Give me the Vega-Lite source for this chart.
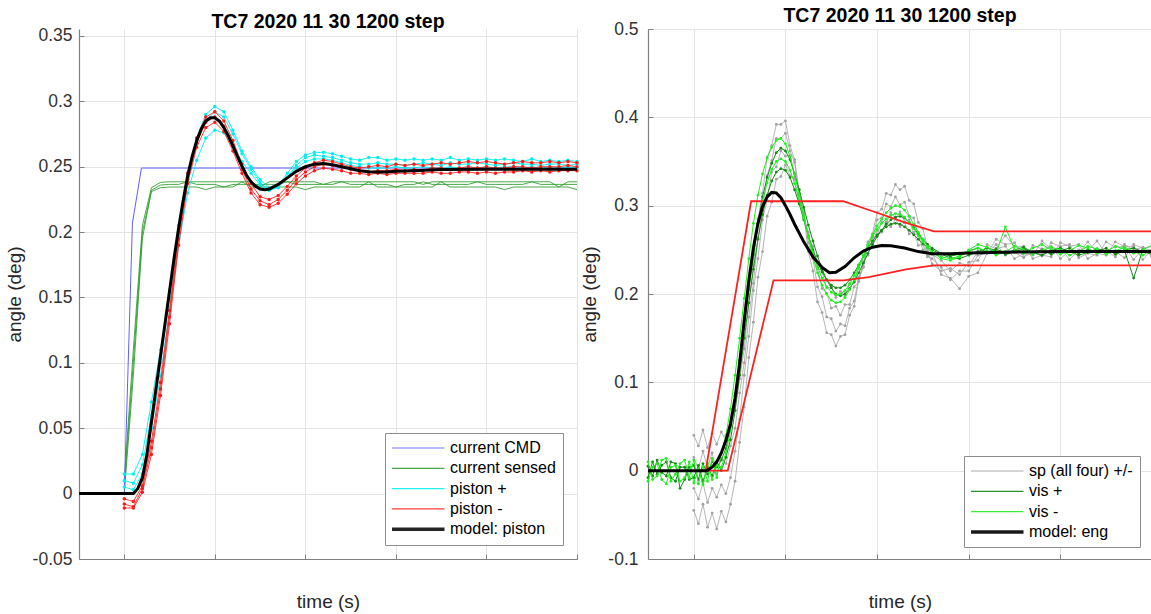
{
"$schema":"https://vega.github.io/schema/vega-lite/v6.json",
"padding":{"left":5,"top":5,"right":0,"bottom":0},
"spacing":-3,
"config":{
 "font":"Liberation Sans",
 "view":{"stroke":null},
 "axis":{"domainColor":"#808080","domainWidth":1.2,"gridColor":"#e4e4e4","gridWidth":1,"tickColor":"#808080","tickSize":-5,"labelFontSize":17.5,"labelColor":"#333333","titleFontSize":19,"titleFontWeight":"normal","titleColor":"#262626","labelFont":"Liberation Sans","titleFont":"Liberation Sans","labelOverlap":false},
 "title":{"fontSize":19.5,"fontWeight":"bold","color":"#000000","font":"Liberation Sans","offset":-6},
 "legend":{"orient":"bottom-right","direction":"vertical","title":null,"symbolType":"stroke","symbolSize":2809,"symbolOffset":18,"clipHeight":16,"labelFontSize":16,"labelColor":"#000000","labelFont":"Liberation Sans","labelOffset":24,"padding":7,"rowPadding":4.3,"strokeColor":"#8c8c8c","fillColor":"#ffffff"}
},
"datasets":{
"cmd":[{"t":0.5,"v":0},{"t":1.0,"v":0},{"t":1.09,"v":0.207},{"t":1.19,"v":0.249},{"t":6.0,"v":0.249}],
"lp":[
{"t":1.0,"c1":0.015,"c2":0.01,"c3":0.005,"r1":-0.004,"r2":-0.008,"r3":-0.011,"s1":0.005,"s2":0,"s3":0.01},
{"t":1.1,"c1":0.015,"c2":0.008,"c3":0.003,"r1":-0.006,"r2":-0.01,"r3":-0.011,"s1":0.1,"s2":0.09,"s3":0.11},
{"t":1.2,"c1":0.03,"c2":0.022,"c3":0.015,"r1":0.006,"r2":0.004,"r3":0.001,"s1":0.2,"s2":0.195,"s3":0.205},
{"t":1.3,"c1":0.07,"c2":0.06,"c3":0.05,"r1":0.04,"r2":0.035,"r3":0.03,"s1":0.231,"s2":0.232,"s3":0.234},
{"t":1.4,"c1":0.11,"c2":0.1,"c3":0.09,"r1":0.085,"r2":0.08,"r3":0.075,"s1":0.234,"s2":0.236,"s3":0.238},
{"t":1.5,"c1":0.155,"c2":0.15,"c3":0.14,"r1":0.14,"r2":0.135,"r3":0.13,"s1":0.2345,"s2":0.2365,"s3":0.2385},
{"t":1.6,"c1":0.205,"c2":0.2,"c3":0.19,"r1":0.2,"r2":0.195,"r3":0.19,"s1":0.2345,"s2":0.2365,"s3":0.2385},
{"t":1.7,"c1":0.245,"c2":0.24,"c3":0.23,"r1":0.245,"r2":0.24,"r3":0.237,"s1":0.2345,"s2":0.2385,"s3":0.2385},
{"t":1.8,"c1":0.272,"c2":0.268,"c3":0.255,"r1":0.272,"r2":0.268,"r3":0.265,"s1":0.2345,"s2":0.2365,"s3":0.2385},
{"t":1.9,"c1":0.29,"c2":0.285,"c3":0.272,"r1":0.288,"r2":0.284,"r3":0.28,"s1":0.2325,"s2":0.2365,"s3":0.2385},
{"t":2.0,"c1":0.296,"c2":0.292,"c3":0.278,"r1":0.292,"r2":0.288,"r3":0.284,"s1":0.2345,"s2":0.2365,"s3":0.2385},
{"t":2.1,"c1":0.292,"c2":0.288,"c3":0.276,"r1":0.285,"r2":0.281,"r3":0.277,"s1":0.2345,"s2":0.2345,"s3":0.2385},
{"t":2.2,"c1":0.278,"c2":0.275,"c3":0.266,"r1":0.27,"r2":0.266,"r3":0.262,"s1":0.2345,"s2":0.2365,"s3":0.2385},
{"t":2.3,"c1":0.262,"c2":0.26,"c3":0.254,"r1":0.252,"r2":0.248,"r3":0.245,"s1":0.2385,"s2":0.2365,"s3":0.2385},
{"t":2.4,"c1":0.25,"c2":0.248,"c3":0.245,"r1":0.237,"r2":0.233,"r3":0.23,"s1":0.2345,"s2":0.2365,"s3":0.2385},
{"t":2.5,"c1":0.24,"c2":0.238,"c3":0.236,"r1":0.227,"r2":0.224,"r3":0.221,"s1":0.2345,"s2":0.2365,"s3":0.2345},
{"t":2.6,"c1":0.234,"c2":0.232,"c3":0.232,"r1":0.225,"r2":0.221,"r3":0.219,"s1":0.2345,"s2":0.2365,"s3":0.2385},
{"t":2.7,"c1":0.236,"c2":0.234,"c3":0.235,"r1":0.228,"r2":0.225,"r3":0.222,"s1":0.2345,"s2":0.2365,"s3":0.2385},
{"t":2.8,"c1":0.245,"c2":0.242,"c3":0.242,"r1":0.235,"r2":0.232,"r3":0.229,"s1":0.2345,"s2":0.2385,"s3":0.2385},
{"t":2.9,"c1":0.254,"c2":0.251,"c3":0.249,"r1":0.243,"r2":0.24,"r3":0.237,"s1":0.2345,"s2":0.2365,"s3":0.2385},
{"t":3.0,"c1":0.259,"c2":0.257,"c3":0.254,"r1":0.249,"r2":0.246,"r3":0.243,"s1":0.2325,"s2":0.2365,"s3":0.2385},
{"t":3.1,"c1":0.261,"c2":0.259,"c3":0.256,"r1":0.253,"r2":0.25,"r3":0.247,"s1":0.2345,"s2":0.2365,"s3":0.2385},
{"t":3.2,"c1":0.261,"c2":0.258,"c3":0.256,"r1":0.255,"r2":0.252,"r3":0.249,"s1":0.2345,"s2":0.2365,"s3":0.2365},
{"t":3.3,"c1":0.26,"c2":0.257,"c3":0.255,"r1":0.254,"r2":0.251,"r3":0.248,"s1":0.2345,"s2":0.2365,"s3":0.2385},
{"t":3.4,"c1":0.258,"c2":0.255,"c3":0.253,"r1":0.252,"r2":0.25,"r3":0.247,"s1":0.2345,"s2":0.2385,"s3":0.2385},
{"t":3.5,"c1":0.256,"c2":0.253,"c3":0.251,"r1":0.25,"r2":0.248,"r3":0.245,"s1":0.2345,"s2":0.2365,"s3":0.2385},
{"t":3.6,"c1":0.255,"c2":0.252,"c3":0.25,"r1":0.249,"r2":0.247,"r3":0.245,"s1":0.2345,"s2":0.2365,"s3":0.2385},
{"t":3.7,"c1":0.257,"c2":0.252,"c3":0.249,"r1":0.25,"r2":0.246,"r3":0.244,"s1":0.2385,"s2":0.2365,"s3":0.2385},
{"t":3.8,"c1":0.257,"c2":0.253,"c3":0.249,"r1":0.251,"r2":0.247,"r3":0.245,"s1":0.2345,"s2":0.2365,"s3":0.2385},
{"t":3.9,"c1":0.255,"c2":0.252,"c3":0.249,"r1":0.25,"r2":0.247,"r3":0.244,"s1":0.2345,"s2":0.2365,"s3":0.2385},
{"t":4.0,"c1":0.256,"c2":0.252,"c3":0.25,"r1":0.252,"r2":0.248,"r3":0.245,"s1":0.2345,"s2":0.2345,"s3":0.2385},
{"t":4.1,"c1":0.255,"c2":0.251,"c3":0.249,"r1":0.251,"r2":0.247,"r3":0.245,"s1":0.2345,"s2":0.2365,"s3":0.2385},
{"t":4.2,"c1":0.256,"c2":0.252,"c3":0.249,"r1":0.252,"r2":0.248,"r3":0.245,"s1":0.2345,"s2":0.2365,"s3":0.2385},
{"t":4.3,"c1":0.255,"c2":0.253,"c3":0.25,"r1":0.251,"r2":0.247,"r3":0.245,"s1":0.2345,"s2":0.2385,"s3":0.2365},
{"t":4.4,"c1":0.256,"c2":0.252,"c3":0.249,"r1":0.252,"r2":0.249,"r3":0.246,"s1":0.2345,"s2":0.2365,"s3":0.2385},
{"t":4.5,"c1":0.255,"c2":0.251,"c3":0.249,"r1":0.253,"r2":0.249,"r3":0.245,"s1":0.2385,"s2":0.2365,"s3":0.2385},
{"t":4.6,"c1":0.257,"c2":0.253,"c3":0.25,"r1":0.252,"r2":0.248,"r3":0.245,"s1":0.2345,"s2":0.2365,"s3":0.2385},
{"t":4.7,"c1":0.255,"c2":0.252,"c3":0.249,"r1":0.253,"r2":0.249,"r3":0.246,"s1":0.2345,"s2":0.2365,"s3":0.2385},
{"t":4.8,"c1":0.256,"c2":0.252,"c3":0.25,"r1":0.254,"r2":0.25,"r3":0.246,"s1":0.2345,"s2":0.2365,"s3":0.2385},
{"t":4.9,"c1":0.255,"c2":0.253,"c3":0.249,"r1":0.253,"r2":0.249,"r3":0.245,"s1":0.2345,"s2":0.2385,"s3":0.2385},
{"t":5.0,"c1":0.256,"c2":0.252,"c3":0.25,"r1":0.254,"r2":0.25,"r3":0.246,"s1":0.2345,"s2":0.2365,"s3":0.2385},
{"t":5.1,"c1":0.255,"c2":0.251,"c3":0.249,"r1":0.253,"r2":0.249,"r3":0.245,"s1":0.2345,"s2":0.2365,"s3":0.2385},
{"t":5.2,"c1":0.256,"c2":0.252,"c3":0.25,"r1":0.252,"r2":0.249,"r3":0.246,"s1":0.2325,"s2":0.2365,"s3":0.2385},
{"t":5.3,"c1":0.255,"c2":0.253,"c3":0.25,"r1":0.253,"r2":0.25,"r3":0.246,"s1":0.2345,"s2":0.2365,"s3":0.2385},
{"t":5.4,"c1":0.254,"c2":0.252,"c3":0.249,"r1":0.254,"r2":0.25,"r3":0.247,"s1":0.2345,"s2":0.2365,"s3":0.2385},
{"t":5.5,"c1":0.256,"c2":0.252,"c3":0.25,"r1":0.253,"r2":0.249,"r3":0.246,"s1":0.2345,"s2":0.2385,"s3":0.2385},
{"t":5.6,"c1":0.254,"c2":0.251,"c3":0.249,"r1":0.253,"r2":0.25,"r3":0.247,"s1":0.2345,"s2":0.2365,"s3":0.2385},
{"t":5.7,"c1":0.255,"c2":0.252,"c3":0.25,"r1":0.254,"r2":0.25,"r3":0.246,"s1":0.2345,"s2":0.2365,"s3":0.2385},
{"t":5.8,"c1":0.254,"c2":0.252,"c3":0.249,"r1":0.253,"r2":0.25,"r3":0.247,"s1":0.2345,"s2":0.2365,"s3":0.2345},
{"t":5.9,"c1":0.255,"c2":0.251,"c3":0.25,"r1":0.254,"r2":0.251,"r3":0.247,"s1":0.2345,"s2":0.2365,"s3":0.2385},
{"t":6.0,"c1":0.254,"c2":0.252,"c3":0.249,"r1":0.253,"r2":0.25,"r3":0.247,"s1":0.2325,"s2":0.2365,"s3":0.2385}
],
"m1":[{"t":0.5,"v":0},{"t":1.0,"v":0},{"t":1.1,"v":0},{"t":1.15,"v":0.004},{"t":1.2,"v":0.012},{"t":1.25,"v":0.03},{"t":1.3,"v":0.055},{"t":1.35,"v":0.08},{"t":1.4,"v":0.105},{"t":1.45,"v":0.13},{"t":1.5,"v":0.155},{"t":1.55,"v":0.18},{"t":1.6,"v":0.203},{"t":1.65,"v":0.224},{"t":1.7,"v":0.243},{"t":1.75,"v":0.258},{"t":1.8,"v":0.27},{"t":1.85,"v":0.279},{"t":1.9,"v":0.285},{"t":1.95,"v":0.2875},{"t":2.0,"v":0.2875},{"t":2.05,"v":0.285},{"t":2.1,"v":0.28},{"t":2.15,"v":0.2735},{"t":2.2,"v":0.266},{"t":2.25,"v":0.258},{"t":2.3,"v":0.2505},{"t":2.35,"v":0.2435},{"t":2.4,"v":0.2385},{"t":2.45,"v":0.235},{"t":2.5,"v":0.233},{"t":2.55,"v":0.2325},{"t":2.6,"v":0.233},{"t":2.7,"v":0.2365},{"t":2.8,"v":0.2415},{"t":2.9,"v":0.2465},{"t":3.0,"v":0.25},{"t":3.1,"v":0.252},{"t":3.2,"v":0.2525},{"t":3.3,"v":0.2515},{"t":3.4,"v":0.25},{"t":3.5,"v":0.2485},{"t":3.6,"v":0.247},{"t":3.7,"v":0.2462},{"t":3.8,"v":0.246},{"t":3.9,"v":0.246},{"t":4.0,"v":0.2465},{"t":4.2,"v":0.247},{"t":4.5,"v":0.2478},{"t":5.0,"v":0.248},{"t":6.0,"v":0.248}],
"rt":[
{"t":0.5,"p1":0.005,"p2":-0.008,"m1":0.01,"m2":-0.012},
{"t":0.55,"p1":-0.006,"p2":0.01,"m1":-0.01,"m2":0.004},
{"t":0.6,"p1":0.012,"p2":-0.004,"m1":-0.006,"m2":0.008},
{"t":0.65,"p1":-0.002,"p2":0.006,"m1":0.012,"m2":-0.01},
{"t":0.7,"p1":-0.006,"p2":0.01,"m1":0.014,"m2":-0.015},
{"t":0.75,"p1":0.01,"p2":-0.008,"m1":-0.012,"m2":0.004},
{"t":0.8,"p1":0.008,"p2":-0.012,"m1":-0.004,"m2":0.006},
{"t":0.85,"p1":-0.02,"p2":0.004,"m1":0.008,"m2":-0.012},
{"t":0.9,"p1":-0.01,"p2":0.004,"m1":0.012,"m2":-0.008},
{"t":0.95,"p1":0.004,"p2":-0.01,"m1":-0.008,"m2":0.01},
{"t":1.0,"g1":0.04,"g2":0.015,"g3":-0.02,"g4":-0.045,"p1":0.006,"p2":-0.008,"m1":0.012,"m2":-0.014},
{"t":1.05,"g1":0.028,"g2":0.002,"g3":-0.032,"g4":-0.06,"p1":-0.01,"p2":0.006,"m1":-0.015,"m2":0.002},
{"t":1.1,"g1":0.046,"g2":0.022,"g3":-0.014,"g4":-0.038,"p1":0.008,"p2":-0.012,"m1":0.005,"m2":-0.016},
{"t":1.15,"g1":0.026,"g2":0.004,"g3":-0.036,"g4":-0.064,"p1":-0.004,"p2":0.004,"m1":-0.012,"m2":0.008},
{"t":1.2,"g1":0.042,"g2":0.02,"g3":-0.02,"g4":-0.048,"p1":0.01,"p2":-0.006,"m1":0.014,"m2":-0.01},
{"t":1.25,"g1":0.03,"g2":-0.004,"g3":-0.03,"g4":-0.066,"p1":0.004,"p2":0.01,"m1":-0.008,"m2":0.006},
{"t":1.3,"g1":0.044,"g2":0.014,"g3":-0.016,"g4":-0.046,"p1":0.012,"p2":0.0,"m1":0.02,"m2":0.004},
{"t":1.35,"g1":0.034,"g2":0.008,"g3":-0.026,"g4":-0.058,"p1":0.025,"p2":0.015,"m1":0.04,"m2":0.02},
{"t":1.4,"g1":0.052,"g2":0.028,"g3":-0.008,"g4":-0.038,"p1":0.05,"p2":0.035,"m1":0.07,"m2":0.045},
{"t":1.45,"g1":0.068,"g2":0.048,"g3":0.022,"g4":-0.012,"p1":0.085,"p2":0.068,"m1":0.108,"m2":0.08},
{"t":1.5,"g1":0.104,"g2":0.088,"g3":0.058,"g4":0.032,"p1":0.125,"p2":0.108,"m1":0.15,"m2":0.12},
{"t":1.55,"g1":0.138,"g2":0.122,"g3":0.108,"g4":0.072,"p1":0.165,"p2":0.15,"m1":0.195,"m2":0.162},
{"t":1.6,"g1":0.19,"g2":0.174,"g3":0.152,"g4":0.128,"p1":0.205,"p2":0.19,"m1":0.24,"m2":0.205},
{"t":1.65,"g1":0.232,"g2":0.212,"g3":0.204,"g4":0.168,"p1":0.245,"p2":0.228,"m1":0.28,"m2":0.245},
{"t":1.7,"g1":0.285,"g2":0.264,"g3":0.24,"g4":0.219,"p1":0.28,"p2":0.262,"m1":0.312,"m2":0.278},
{"t":1.75,"g1":0.314,"g2":0.295,"g3":0.284,"g4":0.248,"p1":0.31,"p2":0.29,"m1":0.336,"m2":0.305},
{"t":1.8,"g1":0.355,"g2":0.334,"g3":0.306,"g4":0.288,"p1":0.332,"p2":0.312,"m1":0.354,"m2":0.326},
{"t":1.85,"g1":0.368,"g2":0.351,"g3":0.338,"g4":0.304,"p1":0.348,"p2":0.328,"m1":0.366,"m2":0.341},
{"t":1.9,"g1":0.392,"g2":0.376,"g3":0.344,"g4":0.33,"p1":0.36,"p2":0.338,"m1":0.374,"m2":0.35},
{"t":1.95,"g1":0.392,"g2":0.376,"g3":0.362,"g4":0.333,"p1":0.365,"p2":0.342,"m1":0.376,"m2":0.353},
{"t":2.0,"g1":0.396,"g2":0.382,"g3":0.356,"g4":0.346,"p1":0.362,"p2":0.34,"m1":0.37,"m2":0.35},
{"t":2.05,"g1":0.368,"g2":0.362,"g3":0.357,"g4":0.334,"p1":0.352,"p2":0.332,"m1":0.356,"m2":0.34},
{"t":2.1,"g1":0.352,"g2":0.349,"g3":0.332,"g4":0.33,"p1":0.336,"p2":0.318,"m1":0.336,"m2":0.325},
{"t":2.15,"g1":0.314,"g2":0.314,"g3":0.318,"g4":0.304,"p1":0.318,"p2":0.302,"m1":0.312,"m2":0.306},
{"t":2.2,"g1":0.289,"g2":0.294,"g3":0.286,"g4":0.292,"p1":0.298,"p2":0.284,"m1":0.288,"m2":0.286},
{"t":2.25,"g1":0.248,"g2":0.258,"g3":0.27,"g4":0.264,"p1":0.278,"p2":0.266,"m1":0.264,"m2":0.266},
{"t":2.3,"g1":0.226,"g2":0.24,"g3":0.24,"g4":0.254,"p1":0.26,"p2":0.25,"m1":0.242,"m2":0.247},
{"t":2.35,"g1":0.191,"g2":0.208,"g3":0.229,"g4":0.23,"p1":0.243,"p2":0.236,"m1":0.224,"m2":0.231},
{"t":2.4,"g1":0.179,"g2":0.197,"g3":0.206,"g4":0.225,"p1":0.228,"p2":0.225,"m1":0.21,"m2":0.218},
{"t":2.45,"g1":0.156,"g2":0.174,"g3":0.201,"g4":0.207,"p1":0.216,"p2":0.216,"m1":0.2,"m2":0.208},
{"t":2.5,"g1":0.154,"g2":0.172,"g3":0.184,"g4":0.208,"p1":0.207,"p2":0.21,"m1":0.193,"m2":0.202},
{"t":2.55,"g1":0.141,"g2":0.158,"g3":0.186,"g4":0.196,"p1":0.2,"p2":0.207,"m1":0.19,"m2":0.199},
{"t":2.6,"g1":0.152,"g2":0.166,"g3":0.176,"g4":0.203,"p1":0.198,"p2":0.207,"m1":0.191,"m2":0.2},
{"t":2.65,"g1":0.154,"g2":0.164,"g3":0.188,"g4":0.198,"p1":0.2,"p2":0.21,"m1":0.196,"m2":0.204},
{"t":2.7,"g1":0.176,"g2":0.184,"g3":0.188,"g4":0.212,"p1":0.206,"p2":0.216,"m1":0.205,"m2":0.211},
{"t":2.75,"g1":0.186,"g2":0.192,"g3":0.208,"g4":0.213,"p1":0.214,"p2":0.224,"m1":0.216,"m2":0.221},
{"t":2.8,"g1":0.216,"g2":0.219,"g3":0.214,"g4":0.232,"p1":0.224,"p2":0.233,"m1":0.229,"m2":0.232},
{"t":2.85,"g1":0.231,"g2":0.23,"g3":0.237,"g4":0.236,"p1":0.235,"p2":0.243,"m1":0.242,"m2":0.244},
{"t":2.9,"g1":0.259,"g2":0.256,"g3":0.244,"g4":0.255,"p1":0.246,"p2":0.252,"m1":0.255,"m2":0.255},
{"t":2.95,"g1":0.268,"g2":0.264,"g3":0.264,"g4":0.257,"p1":0.256,"p2":0.26,"m1":0.267,"m2":0.265},
{"t":3.0,"g1":0.292,"g2":0.284,"g3":0.266,"g4":0.272,"p1":0.265,"p2":0.267,"m1":0.277,"m2":0.273},
{"t":3.05,"g1":0.296,"g2":0.286,"g3":0.282,"g4":0.27,"p1":0.272,"p2":0.272,"m1":0.285,"m2":0.28},
{"t":3.1,"g1":0.314,"g2":0.302,"g3":0.28,"g4":0.282,"p1":0.279,"p2":0.276,"m1":0.292,"m2":0.285},
{"t":3.15,"g1":0.312,"g2":0.299,"g3":0.292,"g4":0.276,"p1":0.284,"p2":0.279,"m1":0.297,"m2":0.289},
{"t":3.2,"g1":0.324,"g2":0.31,"g3":0.286,"g4":0.285,"p1":0.287,"p2":0.28,"m1":0.3,"m2":0.291},
{"t":3.25,"g1":0.318,"g2":0.301,"g3":0.293,"g4":0.276,"p1":0.288,"p2":0.279,"m1":0.299,"m2":0.29},
{"t":3.3,"g1":0.322,"g2":0.304,"g3":0.282,"g4":0.281,"p1":0.286,"p2":0.276,"m1":0.295,"m2":0.287},
{"t":3.35,"g1":0.306,"g2":0.288,"g3":0.284,"g4":0.268,"p1":0.281,"p2":0.272,"m1":0.288,"m2":0.281},
{"t":3.4,"g1":0.302,"g2":0.286,"g3":0.268,"g4":0.27,"p1":0.275,"p2":0.267,"m1":0.279,"m2":0.274},
{"t":3.45,"g1":0.281,"g2":0.266,"g3":0.267,"g4":0.255,"p1":0.268,"p2":0.262,"m1":0.27,"m2":0.266},
{"t":3.5,"g1":0.274,"g2":0.262,"g3":0.25,"g4":0.256,"p1":0.262,"p2":0.257,"m1":0.262,"m2":0.259},
{"t":3.55,"g1":0.252,"g2":0.243,"g3":0.249,"g4":0.242,"p1":0.256,"p2":0.253,"m1":0.254,"m2":0.252},
{"t":3.6,"g1":0.247,"g2":0.24,"g3":0.234,"g4":0.245,"p1":0.252,"p2":0.25,"m1":0.248,"m2":0.247},
{"t":3.7,"g1":0.222,"g2":0.23,"g3":0.226,"g4":0.238,"p1":0.246,"p2":0.245,"m1":0.24,"m2":0.242},
{"t":3.8,"g1":0.218,"g2":0.216,"g3":0.229,"g4":0.226,"p1":0.243,"p2":0.241,"m1":0.238,"m2":0.24},
{"t":3.9,"g1":0.206,"g2":0.226,"g3":0.222,"g4":0.235,"p1":0.245,"p2":0.24,"m1":0.242,"m2":0.243},
{"t":4.0,"g1":0.22,"g2":0.226,"g3":0.236,"g4":0.232,"p1":0.249,"p2":0.244,"m1":0.25,"m2":0.248},
{"t":4.1,"g1":0.224,"g2":0.244,"g3":0.238,"g4":0.248,"p1":0.252,"p2":0.248,"m1":0.256,"m2":0.252},
{"t":4.2,"g1":0.246,"g2":0.246,"g3":0.256,"g4":0.246,"p1":0.247,"p2":0.252,"m1":0.253,"m2":0.249},
{"t":4.3,"g1":0.252,"g2":0.262,"g3":0.251,"g4":0.256,"p1":0.251,"p2":0.249,"m1":0.247,"m2":0.244},
{"t":4.4,"g1":0.266,"g2":0.256,"g3":0.254,"g4":0.244,"p1":0.246,"p2":0.245,"m1":0.276,"m2":0.248},
{"t":4.5,"g1":0.254,"g2":0.258,"g3":0.24,"g4":0.247,"p1":0.25,"p2":0.248,"m1":0.25,"m2":0.254},
{"t":4.6,"g1":0.254,"g2":0.242,"g3":0.246,"g4":0.241,"p1":0.253,"p2":0.251,"m1":0.246,"m2":0.25},
{"t":4.7,"g1":0.24,"g2":0.247,"g3":0.244,"g4":0.255,"p1":0.247,"p2":0.247,"m1":0.252,"m2":0.245},
{"t":4.8,"g1":0.244,"g2":0.243,"g3":0.26,"g4":0.251,"p1":0.25,"p2":0.244,"m1":0.256,"m2":0.249},
{"t":4.9,"g1":0.242,"g2":0.258,"g3":0.251,"g4":0.254,"p1":0.245,"p2":0.249,"m1":0.25,"m2":0.253},
{"t":5.0,"g1":0.258,"g2":0.254,"g3":0.252,"g4":0.24,"p1":0.249,"p2":0.252,"m1":0.245,"m2":0.25},
{"t":5.1,"g1":0.254,"g2":0.256,"g3":0.239,"g4":0.249,"p1":0.252,"p2":0.248,"m1":0.249,"m2":0.244},
{"t":5.2,"g1":0.256,"g2":0.241,"g3":0.25,"g4":0.247,"p1":0.246,"p2":0.244,"m1":0.255,"m2":0.248},
{"t":5.3,"g1":0.24,"g2":0.246,"g3":0.249,"g4":0.259,"p1":0.25,"p2":0.247,"m1":0.252,"m2":0.254},
{"t":5.4,"g1":0.246,"g2":0.244,"g3":0.26,"g4":0.247,"p1":0.248,"p2":0.251,"m1":0.246,"m2":0.251},
{"t":5.5,"g1":0.244,"g2":0.259,"g3":0.246,"g4":0.249,"p1":0.252,"p2":0.249,"m1":0.248,"m2":0.245},
{"t":5.6,"g1":0.259,"g2":0.253,"g3":0.248,"g4":0.242,"p1":0.245,"p2":0.246,"m1":0.254,"m2":0.249},
{"t":5.7,"g1":0.254,"g2":0.254,"g3":0.241,"g4":0.256,"p1":0.249,"p2":0.25,"m1":0.251,"m2":0.253},
{"t":5.8,"g1":0.254,"g2":0.239,"g3":0.256,"g4":0.25,"p1":0.218,"p2":0.252,"m1":0.246,"m2":0.248},
{"t":5.9,"g1":0.239,"g2":0.251,"g3":0.252,"g4":0.253,"p1":0.25,"p2":0.248,"m1":0.25,"m2":0.244},
{"t":6.0,"g1":0.25,"g2":0.25,"g3":0.254,"g4":0.241,"p1":0.247,"p2":0.245,"m1":0.255,"m2":0.25}
],
"env":[
{"b":"up","t":1.13,"v":0},{"b":"up","t":1.625,"v":0.305},{"b":"up","t":2.63,"v":0.305},{"b":"up","t":3.0,"v":0.292},{"b":"up","t":3.3,"v":0.281},{"b":"up","t":3.62,"v":0.271},{"b":"up","t":6.0,"v":0.271},
{"b":"lo","t":1.13,"v":0},{"b":"lo","t":1.37,"v":0},{"b":"lo","t":1.87,"v":0.2155},{"b":"lo","t":2.635,"v":0.2155},{"b":"lo","t":2.91,"v":0.219},{"b":"lo","t":3.316,"v":0.228},{"b":"lo","t":3.62,"v":0.2325},{"b":"lo","t":6.0,"v":0.2325}
],
"m2":[{"t":0.5,"v":0},{"t":1.0,"v":0},{"t":1.14,"v":0},{"t":1.2,"v":0.004},{"t":1.25,"v":0.01},{"t":1.3,"v":0.02},{"t":1.35,"v":0.034},{"t":1.4,"v":0.053},{"t":1.45,"v":0.082},{"t":1.5,"v":0.122},{"t":1.55,"v":0.17},{"t":1.6,"v":0.215},{"t":1.65,"v":0.252},{"t":1.7,"v":0.28},{"t":1.75,"v":0.299},{"t":1.8,"v":0.31},{"t":1.85,"v":0.315},{"t":1.9,"v":0.3145},{"t":1.95,"v":0.309},{"t":2.0,"v":0.3},{"t":2.05,"v":0.29},{"t":2.1,"v":0.279},{"t":2.2,"v":0.259},{"t":2.3,"v":0.242},{"t":2.4,"v":0.23},{"t":2.48,"v":0.224},{"t":2.55,"v":0.2245},{"t":2.65,"v":0.231},{"t":2.75,"v":0.241},{"t":2.85,"v":0.2485},{"t":2.95,"v":0.253},{"t":3.05,"v":0.255},{"t":3.15,"v":0.2545},{"t":3.3,"v":0.252},{"t":3.45,"v":0.248},{"t":3.6,"v":0.2455},{"t":3.8,"v":0.2455},{"t":4.0,"v":0.2465},{"t":4.5,"v":0.2475},{"t":5.0,"v":0.248},{"t":6.0,"v":0.248}]
},
"hconcat":[
{
 "width":498,"height":530,
 "title":{"text":"TC7 2020 11 30 1200 step"},
 "encoding":{
  "x":{"field":"t","type":"quantitative","title":"time (s)","scale":{"domain":[0.5,6],"nice":false,"zero":false},"axis":{"values":[1,2,3,4,5,6],"labels":false,"titlePadding":33}},
  "y":{"field":"v","type":"quantitative","title":"angle (deg)","scale":{"domain":[-0.05,0.35535],"nice":false,"zero":false},"axis":{"values":[-0.05,0,0.05,0.1,0.15,0.2,0.25,0.3,0.35],"labelPadding":12,"titlePadding":8,"labelExpr":"replace(format(datum.value,'~g'),'\u2212','-')"}}
 },
 "layer":[
  {"data":{"name":"lp"},"transform":[{"fold":["s1","s2","s3"],"as":["k","v"]}],
   "mark":{"type":"line","strokeWidth":1,"opacity":0.85},
   "encoding":{"detail":{"field":"k"},"color":{"datum":"current sensed","scale":{"domain":["current CMD","current sensed","piston +","piston -","model: piston"],"range":["#5f5fff","#2a9a2a","#00f0f0","#ff1a1a","#000000"]},
     "legend":{"offset":14,"symbolStrokeWidth":{"expr":"datum.value === 'model: piston' ? 3.5 : 1.2"}}}}},
  {"data":{"name":"cmd"},"mark":{"type":"line","strokeWidth":1},"encoding":{"color":{"datum":"current CMD"}}},
  {"data":{"name":"lp"},"transform":[{"fold":["c1","c2","c3"],"as":["k","v"]}],
   "mark":{"type":"line","strokeWidth":1,"opacity":0.9,"point":{"filled":true,"size":12}},
   "encoding":{"detail":{"field":"k"},"color":{"datum":"piston +"}}},
  {"data":{"name":"lp"},"transform":[{"fold":["r1","r2","r3"],"as":["k","v"]}],
   "mark":{"type":"line","strokeWidth":1,"opacity":0.85,"point":{"filled":true,"size":12}},
   "encoding":{"detail":{"field":"k"},"color":{"datum":"piston -"}}},
  {"data":{"name":"m1"},"mark":{"type":"line","strokeWidth":3},"encoding":{"color":{"datum":"model: piston"}}}
 ]
},
{
 "width":504,"height":530,
 "title":{"text":"TC7 2020 11 30 1200 step"},
 "encoding":{
  "x":{"field":"t","type":"quantitative","title":"time (s)","scale":{"domain":[0.5,6],"nice":false,"zero":false},"axis":{"values":[1,2,3,4,5,6],"labels":false,"titlePadding":33}},
  "y":{"field":"v","type":"quantitative","title":"angle (deg)","scale":{"domain":[-0.1,0.5],"nice":false,"zero":false},"axis":{"values":[-0.1,0,0.1,0.2,0.3,0.4,0.5],"labelPadding":15,"titlePadding":8,"labelExpr":"replace(format(datum.value,'~g'),'\u2212','-')"}}
 },
 "layer":[
  {"data":{"name":"rt"},"transform":[{"fold":["g1","g2","g3","g4"],"as":["k","v"]},{"filter":"isValid(datum.v)"}],
   "mark":{"type":"line","strokeWidth":0.9,"opacity":0.9,"point":{"filled":true,"size":8}},
   "encoding":{"detail":{"field":"k"},"color":{"datum":"sp (all four) +/-","scale":{"domain":["sp (all four) +/-","vis +","vis -","model: eng"],"range":["#a3a3a3","#178a17","#22ee22","#000000"]},
     "legend":{"offset":12,"symbolStrokeWidth":{"expr":"datum.value === 'model: eng' ? 3.5 : 1.2"}}}}},
  {"data":{"name":"rt"},"transform":[{"fold":["p1","p2"],"as":["k","v"]}],
   "mark":{"type":"line","strokeWidth":1,"point":{"filled":true,"size":8}},
   "encoding":{"detail":{"field":"k"},"color":{"datum":"vis +"}}},
  {"data":{"name":"rt"},"transform":[{"fold":["m1","m2"],"as":["k","v"]}],
   "mark":{"type":"line","strokeWidth":1,"point":{"filled":true,"size":8}},
   "encoding":{"detail":{"field":"k"},"color":{"datum":"vis -"}}},
  {"data":{"name":"env"},"mark":{"type":"line","strokeWidth":1.8,"color":"#ff2020"},"encoding":{"detail":{"field":"b"}}},
  {"data":{"name":"m2"},"mark":{"type":"line","strokeWidth":3},"encoding":{"color":{"datum":"model: eng"}}}
 ]
}
],
"resolve":{"scale":{"color":"independent"},"legend":{"color":"independent"}}
}
